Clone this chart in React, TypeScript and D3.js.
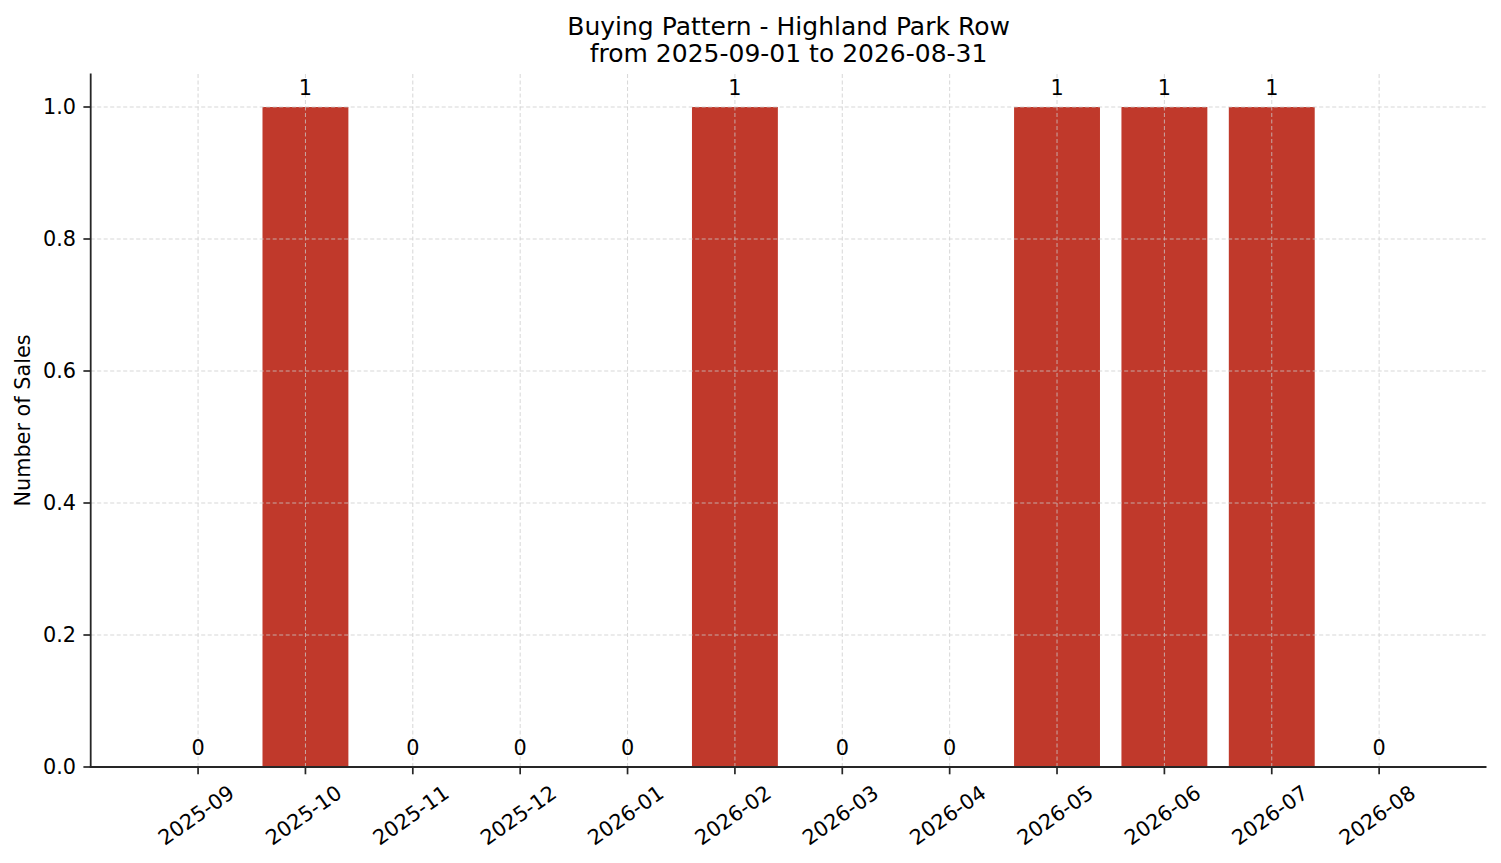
import { useEffect, useRef } from "react"
import * as d3 from "d3"

const months = [
  "2025-09", "2025-10", "2025-11", "2025-12", "2026-01", "2026-02",
  "2026-03", "2026-04", "2026-05", "2026-06", "2026-07", "2026-08",
]
const sales = [0, 1, 0, 0, 0, 1, 0, 0, 1, 1, 1, 0]
const yTicks = [0, 0.2, 0.4, 0.6, 0.8, 1.0]
const titleLines = ["Buying Pattern - Highland Park Row", "from 2025-09-01 to 2026-08-31"]

const W = 1501
const H = 863
const FONT = "DejaVu Sans, sans-serif"

export default function App() {
  const svgRef = useRef<SVGSVGElement>(null)

  useEffect(() => {
    if (!svgRef.current) return
    const svg = d3.select(svgRef.current)
    svg.selectAll("*").remove()

    const left = 90.7
    const right = 1486.5
    const top = 74
    const bottom = 767

    // x is a linear index scale, like matplotlib with xlim(-1, 12)
    const x = d3.scaleLinear().domain([-1, months.length]).range([left, right])
    const y = d3.scaleLinear().domain([0, 1.05]).range([bottom, top])
    const barW = x(0.8) - x(0)

    svg.append("rect").attr("width", W).attr("height", H).attr("fill", "#fff")

    // bars
    svg
      .append("g")
      .selectAll("rect")
      .data(sales)
      .enter()
      .append("rect")
      .attr("x", (d, i) => x(i) - barW / 2)
      .attr("y", (d) => y(d))
      .attr("width", barW)
      .attr("height", (d) => bottom - y(d))
      .attr("fill", "#c0392b")

    // grid (on top of bars)
    const grid = svg.append("g").attr("stroke", "#cccccc").attr("stroke-width", 0.9).attr("stroke-dasharray", "4,2.5").attr("opacity", 0.85)
    months.forEach((m, i) => {
      grid.append("line").attr("x1", x(i)).attr("x2", x(i)).attr("y1", top).attr("y2", bottom)
    })
    yTicks.forEach((t) => {
      grid.append("line").attr("x1", left).attr("x2", right).attr("y1", y(t)).attr("y2", y(t))
    })

    // bar labels
    svg
      .append("g")
      .selectAll("text")
      .data(sales)
      .enter()
      .append("text")
      .attr("x", (d, i) => x(i))
      .attr("y", (d) => y(d) - 12.5)
      .attr("text-anchor", "middle")
      .attr("font-family", FONT)
      .attr("font-size", 20.8)
      .attr("fill", "#000")
      .text((d) => String(d))

    // y axis
    const yAxis = svg.append("g").attr("transform", `translate(${left},0)`)
    yAxis.append("line").attr("x1", 0).attr("x2", 0).attr("y1", top - 0.5).attr("y2", bottom).attr("stroke", "#262626").attr("stroke-width", 1.8)
    yTicks.forEach((t) => {
      yAxis.append("line").attr("x1", -7.3).attr("x2", 0).attr("y1", y(t)).attr("y2", y(t)).attr("stroke", "#262626").attr("stroke-width", 1.7)
      yAxis
        .append("text")
        .attr("x", -14.6)
        .attr("y", y(t))
        .attr("dy", "0.36em")
        .attr("text-anchor", "end")
        .attr("font-family", FONT)
        .attr("font-size", 20.8)
        .attr("fill", "#000")
        .text(d3.format(".1f")(t))
    })

    // x axis
    const xAxis = svg.append("g").attr("transform", `translate(0,${bottom})`)
    xAxis.append("line").attr("x1", left - 1).attr("x2", right).attr("y1", 0).attr("y2", 0).attr("stroke", "#262626").attr("stroke-width", 1.8)
    months.forEach((m, i) => {
      xAxis.append("line").attr("x1", x(i)).attr("x2", x(i)).attr("y1", 0).attr("y2", 7.3).attr("stroke", "#262626").attr("stroke-width", 1.7)
      xAxis
        .append("text")
        .attr("transform", `translate(${x(i) - 2},${48}) rotate(-35)`)
        .attr("text-anchor", "middle")
        .attr("dy", "0.36em")
        .attr("font-family", FONT)
        .attr("font-size", 20.8)
        .attr("fill", "#000")
        .text(m)
    })

    // y label
    svg
      .append("text")
      .attr("transform", `translate(30,${(top + bottom) / 2}) rotate(-90)`)
      .attr("text-anchor", "middle")
      .attr("font-family", FONT)
      .attr("font-size", 20.8)
      .attr("fill", "#000")
      .text("Number of Sales")

    // title
    titleLines.forEach((line, i) => {
      svg
        .append("text")
        .attr("x", (left + right) / 2)
        .attr("y", 34.5 + i * 27.5)
        .attr("text-anchor", "middle")
        .attr("font-family", FONT)
        .attr("font-size", 25)
        .attr("fill", "#000")
        .text(line)
    })
  }, [])

  return (
    <div style={{ position: "absolute", left: 0, top: 0 }}>
      <svg ref={svgRef} width={W} height={H} style={{ display: "block" }} />
    </div>
  )
}
